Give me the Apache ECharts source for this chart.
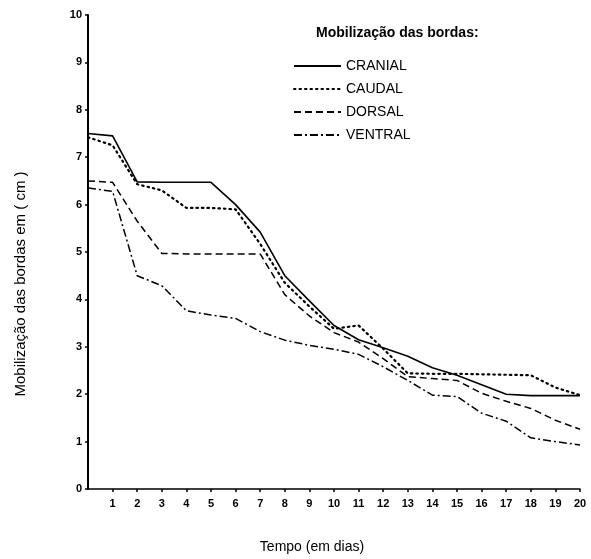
<!DOCTYPE html>
<html><head><meta charset="utf-8">
<script src="https://cdn.jsdelivr.net/npm/echarts@6/dist/echarts.min.js"></script>
<style>html,body{margin:0;padding:0;background:#fff}#c{width:591px;height:559px}</style>
</head><body><div id="c"></div>
<script>
const days = [0,1,2,3,4,5,6,7,8,9,10,11,12,13,14,15,16,17,18,19,20];
const cranial = [7.5,7.45,6.48,6.47,6.47,6.47,6.0,5.42,4.5,3.97,3.45,3.15,2.98,2.8,2.56,2.4,2.2,2.0,1.97,1.97,1.97];
const caudal  = [7.42,7.25,6.43,6.3,5.93,5.93,5.9,5.17,4.35,3.85,3.38,3.45,2.96,2.44,2.43,2.43,2.42,2.41,2.4,2.14,1.98];
const dorsal  = [6.5,6.47,5.65,4.97,4.96,4.96,4.96,4.96,4.1,3.65,3.3,3.1,2.75,2.37,2.33,2.29,2.02,1.85,1.7,1.45,1.26];
const ventral = [6.35,6.28,4.5,4.29,3.76,3.67,3.6,3.32,3.14,3.03,2.95,2.84,2.58,2.29,1.98,1.95,1.6,1.43,1.08,1.0,0.93];
const seriesNames = ['CRANIAL','CAUDAL','DORSAL','VENTRAL'];
const xTitle = 'Tempo (em dias)';
const yTitle = 'Mobilização das bordas em ( cm )';
const legendTitle = 'Mobilização das bordas:';

const font = 'Liberation Sans, Arial, sans-serif';
const styles = [
  {type:'solid', width:1.6},
  {type:[1.5,4], width:2.2, cap:'round'},
  {type:[7,4], width:1.5},
  {type:[8,3,2,3], width:1.5}
];
const allData = [cranial, caudal, dorsal, ventral];
const chart = echarts.init(document.getElementById('c'));
chart.setOption({
  backgroundColor:'#fff',
  animation:false,
  textStyle:{fontFamily:font, color:'#000'},
  grid:{left:88, right:11, top:15, bottom:68, containLabel:false},
  title:{text:legendTitle, left:311, top:21, textStyle:{fontSize:14, fontWeight:'bold', color:'#000', fontFamily:font}},
  legend:{
    orient:'vertical', left:288, top:54, itemWidth:47, itemHeight:14, itemGap:9,
    itemStyle:{opacity:0},
    textStyle:{fontSize:14, color:'#000', fontFamily:font},
    data:seriesNames
  },
  xAxis:{
    type:'value', min:0, max:20, interval:1,
    name:xTitle, nameLocation:'middle', nameGap:51,
    nameTextStyle:{fontSize:14, color:'#000', fontFamily:font, padding:[0,44,0,0]},
    axisLine:{lineStyle:{color:'#000', width:1.5}},
    axisTick:{length:3, lineStyle:{color:'#000', width:1.5}},
    axisLabel:{showMinLabel:false, color:'#000', fontSize:11, fontWeight:'bold', margin:9},
    splitLine:{show:false}
  },
  yAxis:{
    type:'value', min:0, max:10, interval:1,
    name:yTitle, nameLocation:'middle', nameGap:60, nameRotate:90,
    nameTextStyle:{fontSize:15, color:'#000', fontFamily:font, padding:[0,64,0,0]},
    axisLine:{lineStyle:{color:'#000', width:2}},
    axisTick:{length:3, lineStyle:{color:'#000', width:1.5}},
    axisLabel:{color:'#000', fontSize:11, fontWeight:'bold', margin:6},
    splitLine:{show:false}
  },
  series: seriesNames.map((n,i)=>({
    name:n, type:'line', symbol:'none', smooth:false,
    data: days.map((d,j)=>[d, allData[i][j]]),
    lineStyle:Object.assign({color:'#000'}, styles[i]),
    itemStyle:{color:'#000'}
  }))
});
</script></body></html>
